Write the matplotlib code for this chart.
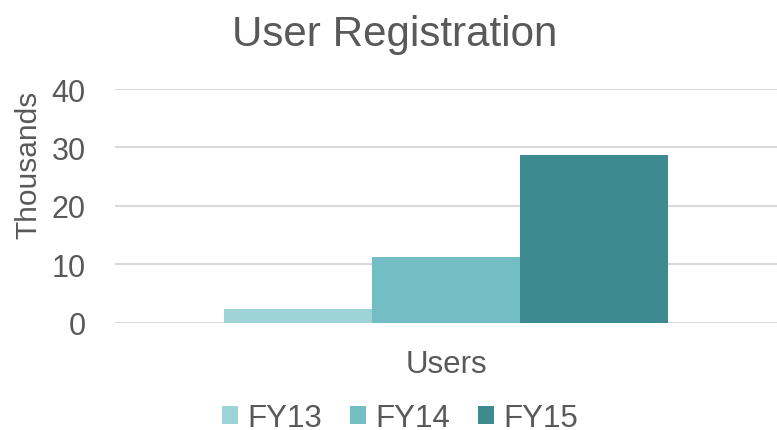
import matplotlib
matplotlib.use("Agg")
import matplotlib.pyplot as plt
import numpy as np

series = ["FY13", "FY14", "FY15"]
values = [2.3, 11.2, 28.7]
colors = ["#9dd3d6", "#73bec4", "#3d8b91"]
category = "Users"

plt.rcParams['font.family'] = ['Liberation Sans', 'DejaVu Sans']
txt = "#595959"

fig = plt.figure(figsize=(7.77, 4.31), dpi=100)
ax = fig.add_axes([115/777, 1-323.5/431, (777-115)/777, (323.5-90)/431])

w = 0.224
offsets = np.array([-1, 0, 1]) * w
handles = []
for off, v, c, s in zip(offsets, values, colors, series):
    b = ax.bar(0 + off, v, width=w, color=c, label=s, zorder=3)
    handles.append(b)

ax.set_xlim(-0.5, 0.5)
ax.set_ylim(0, 40)
ax.set_yticks([0, 10, 20, 30, 40])
ax.yaxis.grid(True, color="#d9d9d9", linewidth=1.5, zorder=0)
ax.set_axisbelow(True)
for sp in ax.spines.values():
    sp.set_visible(False)
ax.tick_params(axis='y', length=0, labelsize=22, labelcolor=txt, pad=21)
ax.set_xticks([0])
ax.set_xticklabels([category])
ax.tick_params(axis='x', length=0, labelsize=22.5, labelcolor=txt, pad=19)
ax.set_ylabel("Thousands", fontsize=21.5, color=txt)
ax.yaxis.set_label_coords(-0.11, 0.68)

fig.text(395/777, 1-35/431, "User Registration", ha="center", va="center",
         fontsize=30.3, color=txt)

leg = fig.legend(handles=handles, labels=series, loc="center",
                 bbox_to_anchor=(400/777, 1-419/431), ncol=3, frameon=False,
                 fontsize=22.5, handlelength=0.5, handleheight=0.5,
                 handletextpad=0.3, columnspacing=0.9)
for t in leg.get_texts():
    t.set_color(txt)

fig.savefig("out.png", dpi=100)
